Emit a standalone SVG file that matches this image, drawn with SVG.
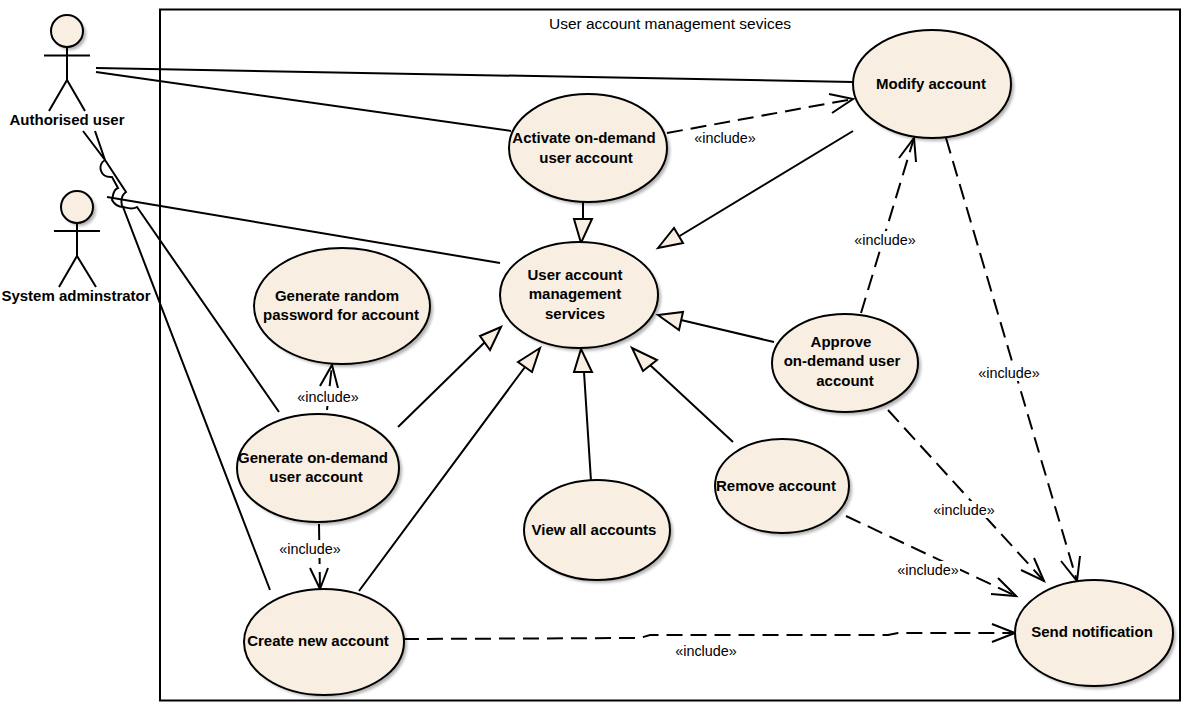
<svg xmlns="http://www.w3.org/2000/svg" width="1192" height="715" viewBox="0 0 1192 715">
<style>
.uc{fill:#f8efe2;stroke:#000;stroke-width:2}
.sh{fill:#000;opacity:.3;filter:url(#b)}
.l{fill:none;stroke:#000;stroke-width:2}
.d{fill:none;stroke:#000;stroke-width:2;stroke-dasharray:16 8}
.h{fill:#f8efe2;stroke:#000;stroke-width:2}
text{font-family:"Liberation Sans",Arial,sans-serif;fill:#000;text-anchor:middle}
.n{font-size:15px;font-weight:bold}
.i{font-size:14.400px}
</style>
<defs><filter id="b" x="-20%" y="-20%" width="140%" height="140%"><feGaussianBlur stdDeviation="1.5"/></filter></defs>
<rect width="1192" height="715" fill="#fff"/>
<g id="boundary"><rect x="160" y="9.500" width="1020" height="691" fill="none" stroke="#000" stroke-width="2"/>
<text x="670" y="29" font-size="15.500">User account management sevices</text></g>
<g id="connectors">
<path class="l" d="M96 68L853 82M96 72L511 131M853 131L678 237M774 342L681 320M733 442L650 365M591 481L584 372M398 427L485 342M359 591L525 367"/>
<path class="l" d="M107 197L500 263"/>
<path class="l" d="M83 131L105 160M95 131L105 160C97 165 100 178 112 177L118 188C112 190 113 198 112 200C116 207 121 207 123 207L270 590"/>
<path class="l" d="M105 160L126 192C120 196 121 205 123 207C128 208 132 210 137 207L279 412"/>
<path class="d" d="M667 133L853 99M861 313L914 138M946 138L1077 581M888 410L1044 581M846 516L1016 596M403 639L640 638L650 635L888 635L898 633L1015 633M319 524L320 589"/>
<path class="d" d="M327 410L332 365"/>
<path class="l" d="M829 94L853 99L832 113M899 158L914 138L916 162M1021 570L1044 581L1034 558M1061 561L1077 581L1080 556M991 594L1016 596L998 578M992 624L1015 633L992 642M310 568L320 589L328 568M320 386L332 365L338 388"/>
<polygon class="h" points="658,248 674,228 683,243"/>
<polygon class="h" points="658,315 683,312 679,330"/>
<polygon class="h" points="632,348 657,360 643,371"/>
<polygon class="h" points="581,349 574,372 592,372"/>
<polygon class="h" points="501,327 480,336 490,350"/>
<polygon class="h" points="540,348 518,362 532,372"/>
<polygon class="h" points="581,243 574,219 592,219"/>
<path class="l" d="M583 202V219"/>
</g>
<g id="modify-account"><ellipse class="sh" cx="935" cy="87" rx="79" ry="54"/><ellipse class="uc" cx="932" cy="84" rx="79" ry="54"/><text class="n" x="931" y="89">Modify account</text></g>
<g id="activate"><ellipse class="sh" cx="591" cy="151" rx="79" ry="54"/><ellipse class="uc" cx="588" cy="148" rx="79" ry="54"/><text class="n" x="584" y="143">Activate on-demand</text><text class="n" x="586" y="163">user account</text></g>
<g id="user-account-management"><ellipse class="sh" cx="582" cy="298" rx="79" ry="53"/><ellipse class="uc" cx="579" cy="295" rx="79" ry="53"/><text class="n" x="575" y="280">User account</text><text class="n" x="575" y="299">management</text><text class="n" x="575" y="319">services</text></g>
<g id="generate-random"><ellipse class="sh" cx="345" cy="309" rx="88" ry="58"/><ellipse class="uc" cx="342" cy="306" rx="88" ry="58"/><text class="n" x="337" y="301">Generate random</text><text class="n" x="341" y="320">password for account</text></g>
<g id="approve"><ellipse class="sh" cx="848" cy="366" rx="73" ry="49"/><ellipse class="uc" cx="845" cy="363" rx="73" ry="49"/><text class="n" x="841" y="347">Approve</text><text class="n" x="842" y="366">on-demand user</text><text class="n" x="845" y="386">account</text></g>
<g id="generate-on-demand"><ellipse class="sh" cx="321" cy="471" rx="81" ry="54"/><ellipse class="uc" cx="318" cy="468" rx="81" ry="54"/><text class="n" x="313" y="463">Generate on-demand</text><text class="n" x="316" y="482">user account</text></g>
<g id="remove-account"><ellipse class="sh" cx="785" cy="489" rx="67" ry="47"/><ellipse class="uc" cx="782" cy="486" rx="67" ry="47"/><text class="n" x="776" y="491">Remove account</text></g>
<g id="view-all"><ellipse class="sh" cx="600" cy="533" rx="73" ry="50"/><ellipse class="uc" cx="597" cy="530" rx="73" ry="50"/><text class="n" x="594" y="535">View all accounts</text></g>
<g id="create-new"><ellipse class="sh" cx="327" cy="645" rx="80" ry="53"/><ellipse class="uc" cx="324" cy="642" rx="80" ry="53"/><text class="n" x="318" y="646">Create new account</text></g>
<g id="send-notification"><ellipse class="sh" cx="1097" cy="636" rx="79" ry="53"/><ellipse class="uc" cx="1094" cy="633" rx="79" ry="53"/><text class="n" x="1092" y="637">Send notification</text></g>
<g id="authorised-user"><circle class="sh" cx="70" cy="34" r="16"/><circle class="uc" cx="67" cy="31" r="16"/><path class="l" d="M67 47V80M44 55.500H90M49 111L67 80L85 111"/><text class="n" x="67" y="125">Authorised user</text></g>
<g id="system-administrator"><circle class="sh" cx="80" cy="210" r="16"/><circle class="uc" cx="77" cy="207" r="16"/><path class="l" d="M77 223V256M54 231H100M59 287L77 256L96 287"/><text class="n" x="76" y="301">System adminstrator</text></g>
<g id="labels">
<rect x="296" y="388" width="66" height="18" fill="#fff"/><rect x="277" y="541" width="66" height="17" fill="#fff"/><rect x="897" y="561" width="63" height="17" fill="#fff"/><rect x="852" y="231" width="66" height="17" fill="#fff"/><rect x="976" y="364" width="66" height="17" fill="#fff"/><rect x="931" y="501" width="66" height="17" fill="#fff"/>
<text class="i" x="725" y="143">«include»</text>
<text class="i" x="885" y="245">«include»</text>
<text class="i" x="1009" y="378">«include»</text>
<text class="i" x="964" y="515">«include»</text>
<text class="i" x="928" y="575">«include»</text>
<text class="i" x="328" y="402">«include»</text>
<text class="i" x="310" y="554">«include»</text>
<text class="i" x="706" y="656">«include»</text>
</g>
</svg>
